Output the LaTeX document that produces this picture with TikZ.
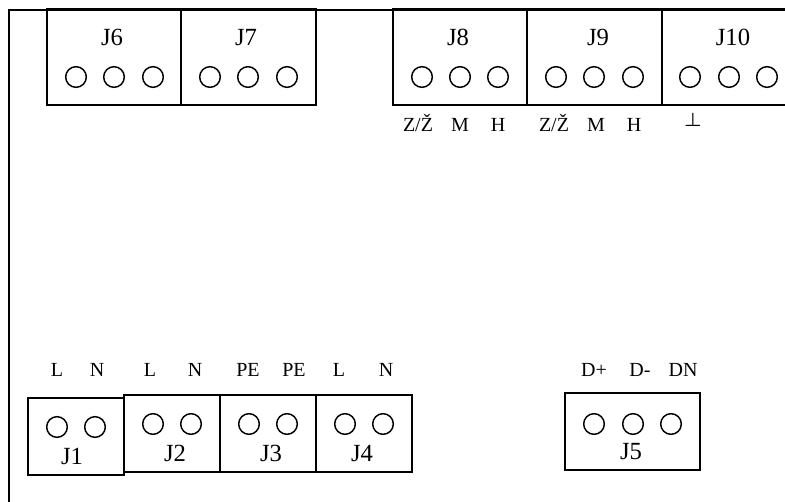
\documentclass[tikz,border=0pt]{standalone}
\usepackage{amsmath, amssymb}
\usepackage{fontspec}
\setmainfont{Liberation Serif}
\tikzset{
	board/.style={line width=1.25pt},
	termbox/.style 2 args={draw,line width=1.25pt,rectangle,inner sep=0pt,minimum width=#1*0.75pt,minimum height=#2*0.75pt},
	pin/.style={draw,line width=1.1pt,circle,inner sep=0pt,minimum size=15.5pt},
	jlabel/.style={font=\fontsize{18.5}{20}\selectfont,inner sep=0pt,text height=12.2pt,text depth=0pt},
	siglabel/.style={font=\fontsize{15}{17}\selectfont,inner sep=0pt,text height=9.9pt,text depth=0pt}
}
\begin{document}
\begin{tikzpicture}[x=0.75pt,y=-0.75pt]
	\useasboundingbox (0,0) rectangle (785,502);
	% outline of the board
	\coordinate (boardbl) at (9,502);
	\coordinate (boardtl) at (9,9.8);
	\coordinate (boardtr) at (785,9.8);
	\draw[board] (boardbl) -- (boardtl) -- (boardtr);
	% top row
	\node[termbox={134.5}{96}] (J6) at (114,57) {};
	\node[termbox={134.5}{96}] (J7) at (248.5,57) {};
	\node[termbox={134.5}{96}] (J8) at (460,57) {};
	\node[termbox={134.5}{96}] (J9) at (594.5,57) {};
	\node[termbox={134.5}{96}] (J10) at (729,57) {};
	\foreach \x/\n in {76/a,114/b,153/c,210/d,248/e,287/f,422/g,460/h,498/i,556/j,594/k,633/l,690/m,729/n,767/o}
		\node[pin] (top\n) at (\x,77) {};
	\node[jlabel] (labJ6) at (112,37) {J6};
	\node[jlabel] (labJ7) at (246,37) {J7};
	\node[jlabel] (labJ8) at (458,37) {J8};
	\node[jlabel] (labJ9) at (598,37) {J9};
	\node[jlabel] (labJ10) at (733,37) {J10};
	\foreach \x/\t/\n in {418/{Z/Ž}/a,460/M/b,498/H/c,554/{Z/Ž}/d,596/M/e,634/H/f}
		\node[siglabel] (sig\n) at (\x,125) {\t};
	\node[siglabel,text height=,text depth=] (sigg) at (693,120) {$\boldsymbol{\perp}$};
	% bottom row
	\node[termbox={96}{77}] (J1) at (76,436.5) {};
	\node[termbox={96}{77}] (J2) at (172,433.5) {};
	\node[termbox={96}{77}] (J3) at (268,433.5) {};
	\node[termbox={96}{77}] (J4) at (364,433.5) {};
	\node[termbox={135}{77}] (J5) at (632.5,431.5) {};
	\foreach \x/\n in {57/a,95/b}
		\node[pin] (low\n) at (\x,427) {};
	\foreach \x/\n in {153/c,191/d,249/e,287/f,345/g,383/h,594/i,633/j,671/k}
		\node[pin] (low\n) at (\x,424) {};
	\node[jlabel] (labJ1) at (72,456) {J1};
	\node[jlabel] (labJ2) at (175,453) {J2};
	\node[jlabel] (labJ3) at (271,453) {J3};
	\node[jlabel] (labJ4) at (362,453) {J4};
	\node[jlabel] (labJ5) at (631,451) {J5};
	\foreach \x/\t/\n in {57/L/a,97/N/b,150/L/c,195/N/d,248/PE/e,294/PE/f,339/L/g,386/N/h,594/D+/i,640/D-/j,683/DN/k}
		\node[siglabel] (pow\n) at (\x,370) {\t};
\end{tikzpicture}
\end{document}
